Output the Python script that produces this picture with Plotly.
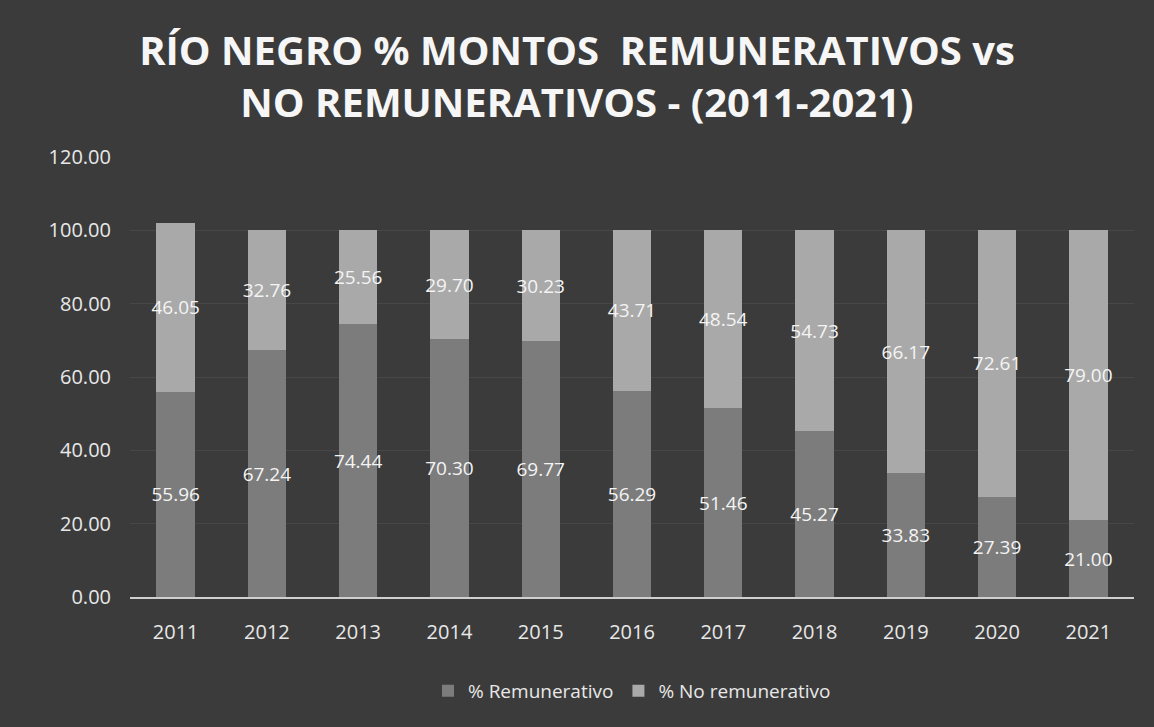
import plotly.graph_objects as go

# Río Negro: % remunerativo vs % no remunerativo
anios = ["2011", "2012", "2013", "2014", "2015", "2016", "2017", "2018", "2019", "2020", "2021"]
remunerativo = [55.96, 67.24, 74.44, 70.30, 69.77, 56.29, 51.46, 45.27, 33.83, 27.39, 21.00]
no_remunerativo = [46.05, 32.76, 25.56, 29.70, 30.23, 43.71, 48.54, 54.73, 66.17, 72.61, 79.00]
y_ticks = [0, 20, 40, 60, 80, 100, 120]

fuente = "Open Sans"

fig = go.Figure()
fig.add_trace(go.Bar(
    x=anios, y=remunerativo, name="% Remunerativo",
    marker=dict(color="#7c7c7c", line=dict(width=0)),
    text=[f"{v:.2f}" for v in remunerativo],
    textposition="inside", insidetextanchor="middle",
    textangle=0, constraintext="none",
    textfont=dict(color="#f4f4f4", size=19, family=fuente),
))
fig.add_trace(go.Bar(
    x=anios, y=no_remunerativo, name="% No remunerativo",
    marker=dict(color="#a9a9a9", line=dict(width=0)),
    text=[f"{v:.2f}" for v in no_remunerativo],
    textposition="inside", insidetextanchor="middle",
    textangle=0, constraintext="none",
    textfont=dict(color="#f4f4f4", size=19, family=fuente),
))

fig.update_layout(
    width=1154, height=727,
    barmode="stack", bargap=0.58,
    paper_bgcolor="#3b3b3b", plot_bgcolor="#3b3b3b",
    title=dict(
        text="<b>RÍO NEGRO % MONTOS  REMUNERATIVOS vs<br>NO REMUNERATIVOS - (2011-2021)</b>",
        x=0.5, xanchor="center", yref="container", y=0.91, yanchor="middle",
        font=dict(family=fuente, size=40, color="#f6f6f6"),
    ),
    font=dict(family=fuente, color="#e8e8e8"),
    margin=dict(l=130, r=20, t=157, b=130),
    legend=dict(
        orientation="h", x=0.5, xanchor="center", y=-0.17, yanchor="top",
        font=dict(size=19, color="#e8e8e8"), traceorder="normal",
    ),
    showlegend=True,
)
fig.update_yaxes(
    range=[0, 120], tickvals=y_ticks, ticktext=[f"{v:.2f}" for v in y_ticks],
    showgrid=True, gridcolor="#474747", gridwidth=1, zeroline=False,
    tickfont=dict(size=20, color="#e8e8e8"), ticks="", ticklabelstandoff=18,
)
fig.update_xaxes(
    showline=True, linecolor="#cfcfcf", linewidth=2,
    tickfont=dict(size=20, color="#e8e8e8"), ticks="", ticklabelstandoff=16,
)

fig.write_html(
    "out.html",
    config={"displayModeBar": False},
    post_script="document.body.style.margin='0';document.body.style.background='#3b3b3b';",
)
